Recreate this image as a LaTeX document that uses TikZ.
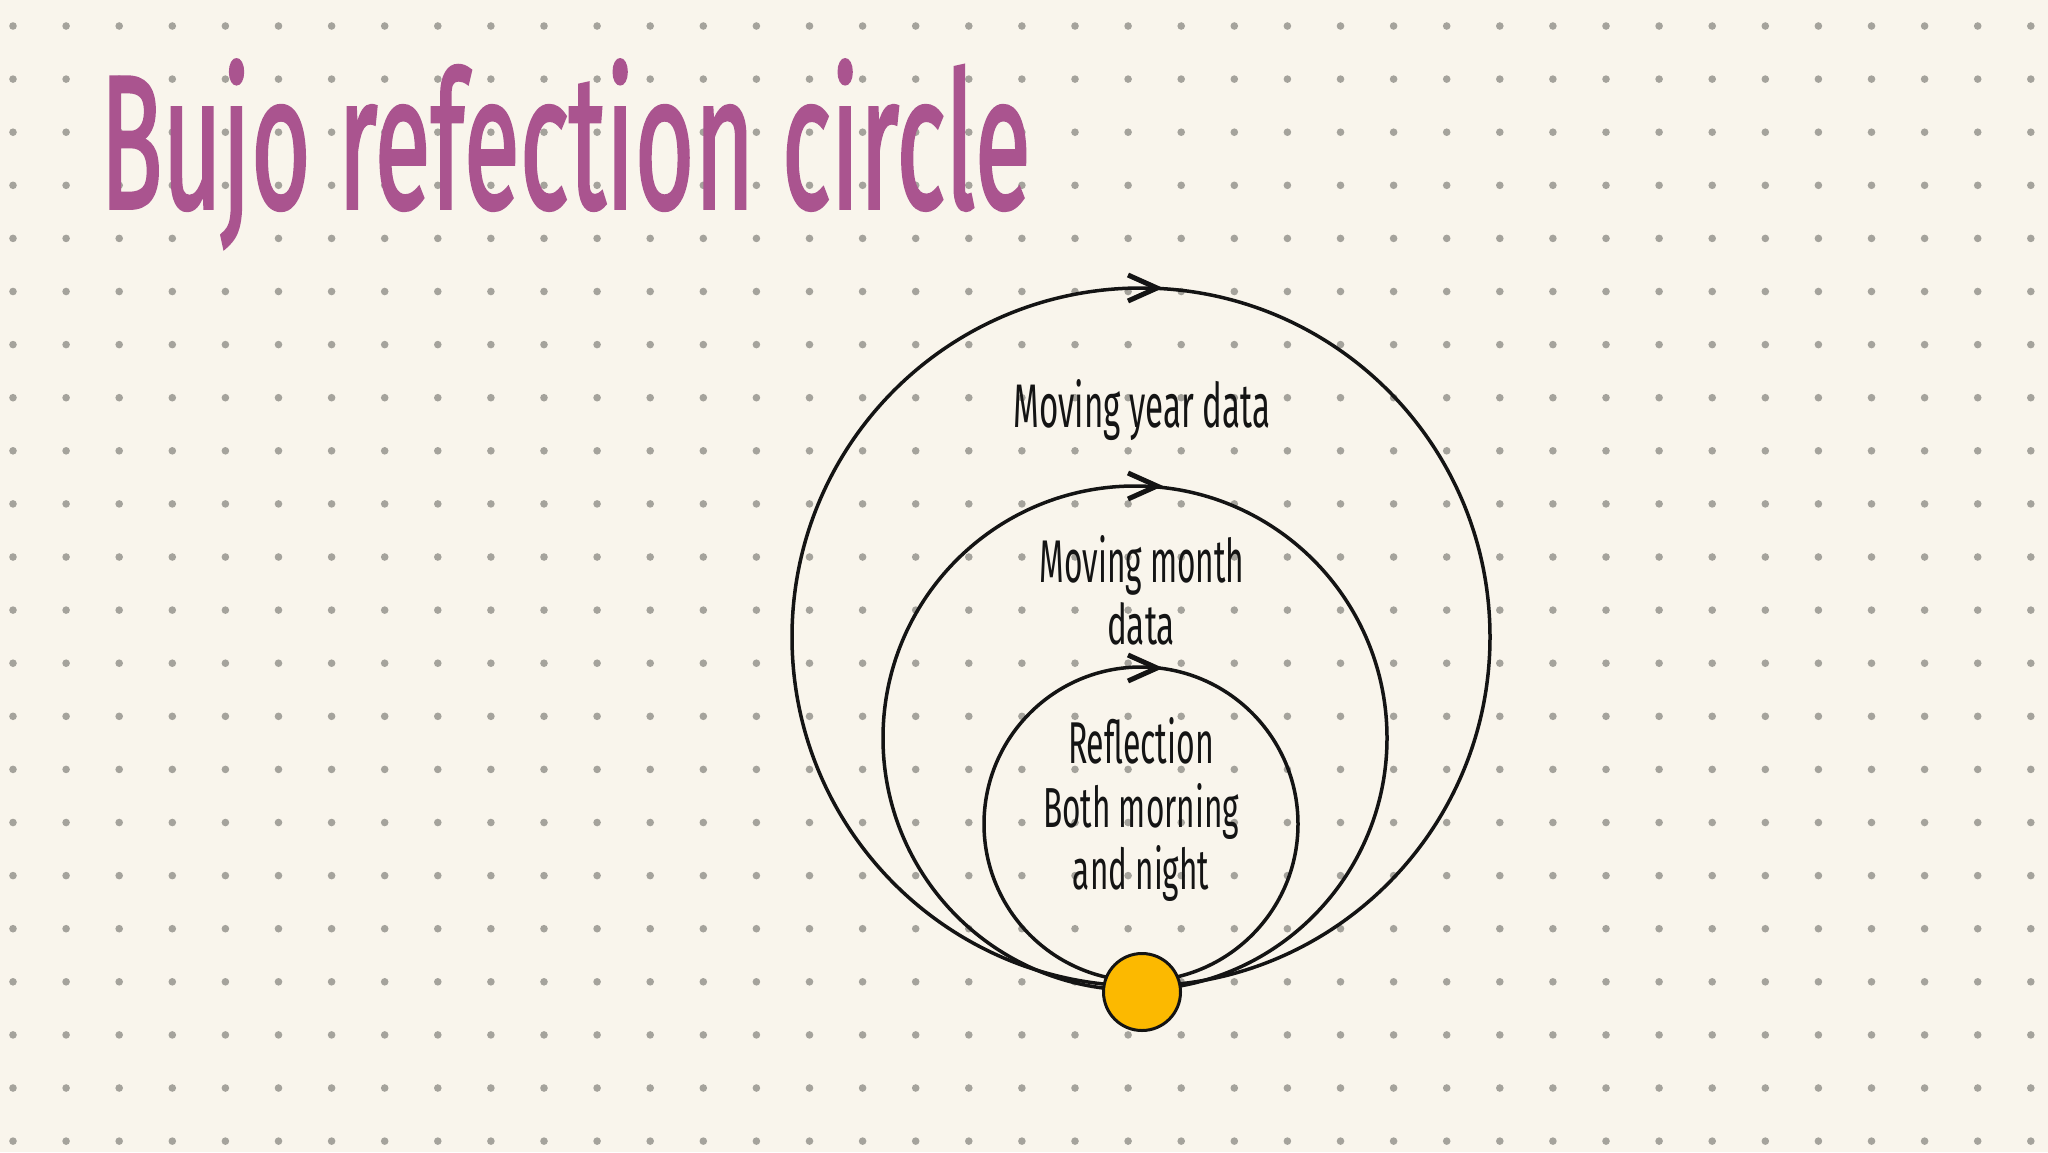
\documentclass[tikz,border=0pt]{standalone}
\usepackage{fontspec}
\setmainfont{Fira Sans}
\newfontfamily\handfont{Fira Sans}
\newfontfamily\titlefont[FakeBold=2]{Fira Sans}
\definecolor{bgc}{RGB}{249,245,236}
\definecolor{dotgray}{RGB}{165,163,156}
\definecolor{inkc}{RGB}{20,20,20}
\definecolor{titlec}{RGB}{170,84,143}
\definecolor{sunc}{RGB}{252,185,0}
\begin{document}
\begin{tikzpicture}[x=1pt,y=-1pt,
  ring/.style={line width=3.5pt, draw=inkc},
  chev/.style={line width=5pt, draw=inkc, line cap=butt, line join=miter},
  lbl/.style={inner sep=0pt, anchor=base, text=inkc, font=\handfont},
  ttl/.style={inner sep=0pt, anchor=base west, text=titlec, font=\titlefont}]
\fill[bgc] (0,0) rectangle (2048,1152);
\useasboundingbox (0,0) rectangle (2048,1152);
\foreach \i in {0,...,38} {
  \foreach \j in {0,...,21} {
    \fill[dotgray] ({13+53.1*\i},{26+53.1*\j}) circle[radius=3.8pt];
  }
}
\node[ttl] (title) at (100,208) {\resizebox{930pt}{148pt}{Bujo refection circle}};

\draw[ring] (1141,637) circle[radius=349pt];
\draw[ring] (1135,738) circle[radius=252pt];
\draw[ring] (1141,824) circle[radius=157pt];

\coordinate (t1) at (1157,288);
\coordinate (t2) at (1157,486);
\coordinate (t3) at (1157,668);
\draw[chev] ([shift={(-29,-13)}]t1) -- (t1) -- ([shift={(-29,13)}]t1);
\draw[chev] ([shift={(-29,-13)}]t2) -- (t2) -- ([shift={(-29,13)}]t2);
\draw[chev] ([shift={(-29,-13)}]t3) -- (t3) -- ([shift={(-29,13)}]t3);

\node[circle, fill=sunc, draw=inkc, line width=3pt, minimum size=77pt, inner sep=0pt] (sun) at (1142,992) {};

\node[lbl] (year) at (1142,427) {\resizebox{257pt}{48pt}{Moving year data}};
\node[lbl] (month) at (1142,582) {\resizebox{205pt}{47pt}{Moving month}};
\node[lbl] (monthb) at (1141,644) {\resizebox{68pt}{42pt}{data}};
\node[lbl] (refl) at (1141,763) {\resizebox{146pt}{46pt}{Reflection}};
\node[lbl] (both) at (1141,827) {\resizebox{196pt}{44pt}{Both morning}};
\node[lbl] (night) at (1141,889) {\resizebox{136pt}{44pt}{and night}};
\end{tikzpicture}
\end{document}
